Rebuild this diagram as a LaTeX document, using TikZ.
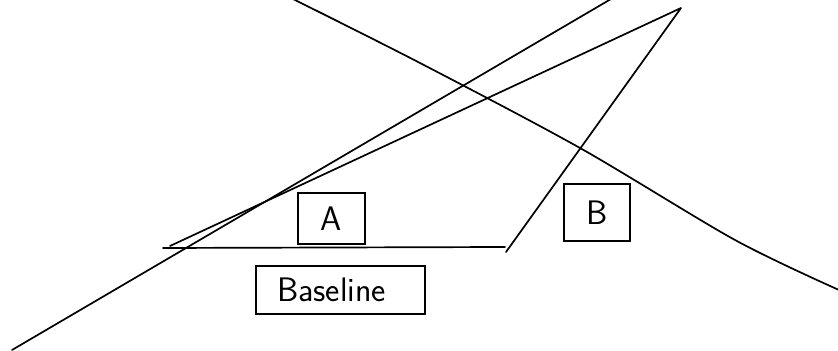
\documentclass[tikz,border=0pt]{standalone}
\usepackage{tikz}
\usetikzlibrary{positioning}
\tikzset{
  box/.style={draw, rectangle, line width=0.6pt, font=\sffamily\fontsize{17}{20}\selectfont},
  stroke/.style={line width=0.85pt, line cap=round, line join=round},
}

\begin{document}
\begin{tikzpicture}[x=0.5pt, y=-0.5pt]
  \useasboundingbox (0,0) rectangle (838,351);

  % boxes
  \node[box, minimum width=33.5pt, minimum height=25.5pt] (a) at (331.5,218.5) {A};
  \node[box, minimum width=33pt, minimum height=28.5pt] (b) at (597,212.5) {B};
  \node[box, minimum width=84.5pt, minimum height=24pt] (base) at (340.5,290)
    {\hspace*{-9pt}\raisebox{-2pt}{Baseline}};

  % triangle
  \coordinate (tl) at (163,248);
  \coordinate (tr) at (505,247);
  \coordinate (tt) at (681,8);
  \draw[stroke] (tl) -- (tr);
  \draw[stroke] (506,252) -- (tt) -- (170,246);

  % long line
  \draw[stroke] (12,350) -- (611,-1);

  % curve
  \draw[stroke] plot[smooth, tension=0.5] coordinates {(293,-1) (420,63) (580,148)
    (735,240) (839,290)};
\end{tikzpicture}
\end{document}
